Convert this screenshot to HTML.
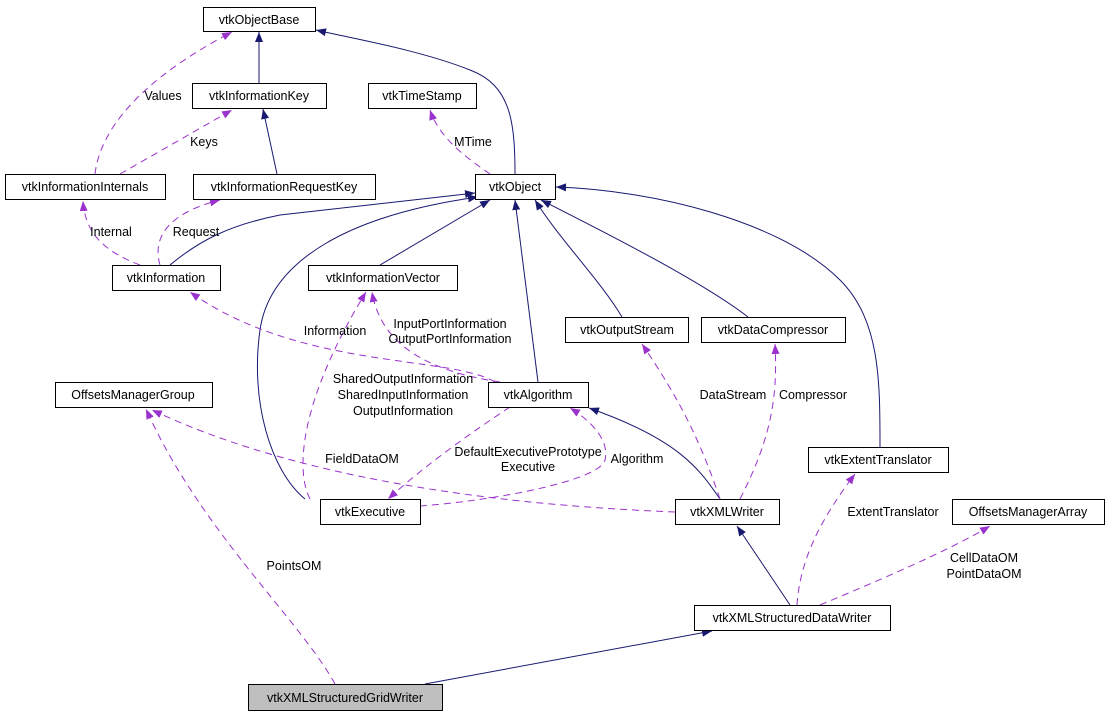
<!DOCTYPE html>
<html><head><meta charset="utf-8"><style>
html,body{margin:0;padding:0;background:#fff;}
svg{display:block;}
text{font-family:"Liberation Sans",sans-serif;font-size:12.5px;fill:#000;}
.n rect{fill:#fff;stroke:#000;stroke-width:1;}
.s{fill:none;stroke:#191970;stroke-width:1;}
.d{fill:none;stroke:#9a32cd;stroke-width:1;stroke-dasharray:7,5;}
</style></head><body>
<svg width="1116" height="715" viewBox="0 0 1116 715" xmlns="http://www.w3.org/2000/svg">
<defs>
<marker id="an" viewBox="0 0 10 10" refX="10" refY="5" markerWidth="10" markerHeight="10" markerUnits="userSpaceOnUse" orient="auto"><path d="M0,1 L10,5 L0,9 z" fill="#191970"/></marker>
<marker id="ap" viewBox="0 0 10 10" refX="10" refY="5" markerWidth="10" markerHeight="10" markerUnits="userSpaceOnUse" orient="auto"><path d="M0,1 L10,5 L0,9 z" fill="#9a32cd"/></marker>
</defs>
<g class="s" marker-end="url(#an)">
<path d="M259,83 L259,32"/>
<path d="M515,174 C515,120 510,85 470,70 C420,50 350,38 316,30"/>
<path d="M277,174 L263,109"/>
<path d="M170,265 C200,240 230,225 280,215 L475,193"/>
<path d="M380,265 L490,200"/>
<path d="M305,499 C270,470 250,400 260,330 C270,260 350,215 478,197"/>
<path d="M538,382 L515,200"/>
<path d="M622,317 C600,280 560,240 535,200"/>
<path d="M748,317 C700,280 600,230 541,200"/>
<path d="M880,447 C880,380 880,320 840,280 C780,220 650,190 556,187"/>
<path d="M720,499 C700,470 680,440 589,408"/>
<path d="M790,605 L737,526"/>
<path d="M425,684 L712,631"/>
</g>
<g class="d" marker-end="url(#ap)">
<path d="M95,174 C100,130 140,80 232,32"/>
<path d="M120,174 L232,110"/>
<path d="M490,174 C470,160 440,140 430,110"/>
<path d="M140,265 C100,250 85,230 83,201"/>
<path d="M160,265 C150,230 180,210 220,200"/>
<path d="M495,382 C450,355 300,370 190,292"/>
<path d="M500,382 C420,370 380,340 372,292"/>
<path d="M310,499 C295,470 300,400 366,292"/>
<path d="M510,407 C460,440 420,470 388,499"/>
<path d="M420,506 C500,500 600,480 605,460 C610,440 590,420 570,408"/>
<path d="M675,512 C500,505 300,480 152,410"/>
<path d="M720,499 C700,440 680,400 642,344"/>
<path d="M740,499 C770,440 778,400 775,344"/>
<path d="M797,605 C800,560 820,520 855,474"/>
<path d="M820,605 C880,580 950,550 990,526"/>
<path d="M335,684 C300,620 200,530 146,409"/>
</g>
<g class="n">
<rect x="203.5" y="7.5" width="112" height="24"/>
<rect x="192.5" y="83.5" width="134" height="25"/>
<rect x="368.5" y="83.5" width="108" height="25"/>
<rect x="5.5" y="174.5" width="160" height="25"/>
<rect x="193.5" y="174.5" width="182" height="25"/>
<rect x="475.5" y="174.5" width="80" height="25"/>
<rect x="112.5" y="265.5" width="108" height="25"/>
<rect x="308.5" y="265.5" width="149" height="25"/>
<rect x="565.5" y="317.5" width="123" height="25"/>
<rect x="701.5" y="317.5" width="144" height="25"/>
<rect x="55.5" y="382.5" width="157" height="25"/>
<rect x="488.5" y="382.5" width="100" height="25"/>
<rect x="808.5" y="447.5" width="140" height="25"/>
<rect x="952.5" y="499.5" width="152" height="25"/>
<rect x="320.5" y="499.5" width="100" height="25"/>
<rect x="675.5" y="499.5" width="104" height="25"/>
<rect x="694.5" y="605.5" width="196" height="25"/>
<rect x="248.5" y="684.5" width="194" height="26" style="fill:#bfbfbf"/>
</g>
<g text-anchor="middle">
<text x="259" y="24">vtkObjectBase</text>
<text x="259" y="100">vtkInformationKey</text>
<text x="422" y="100">vtkTimeStamp</text>
<text x="85" y="191">vtkInformationInternals</text>
<text x="284" y="191">vtkInformationRequestKey</text>
<text x="515" y="191">vtkObject</text>
<text x="166" y="282">vtkInformation</text>
<text x="383" y="282">vtkInformationVector</text>
<text x="627" y="334">vtkOutputStream</text>
<text x="773" y="334">vtkDataCompressor</text>
<text x="133" y="399">OffsetsManagerGroup</text>
<text x="538" y="399">vtkAlgorithm</text>
<text x="878" y="464">vtkExtentTranslator</text>
<text x="1028" y="516">OffsetsManagerArray</text>
<text x="370" y="516">vtkExecutive</text>
<text x="727" y="516">vtkXMLWriter</text>
<text x="792" y="622">vtkXMLStructuredDataWriter</text>
<text x="345" y="702">vtkXMLStructuredGridWriter</text>

<text x="163" y="100">Values</text>
<text x="204" y="146">Keys</text>
<text x="473" y="146">MTime</text>
<text x="111" y="236">Internal</text>
<text x="196" y="236">Request</text>
<text x="335" y="335">Information</text>
<text x="450" y="328">InputPortInformation</text>
<text x="450" y="343">OutputPortInformation</text>
<text x="403" y="383">SharedOutputInformation</text>
<text x="403" y="399">SharedInputInformation</text>
<text x="403" y="415">OutputInformation</text>
<text x="528" y="456">DefaultExecutivePrototype</text>
<text x="528" y="471">Executive</text>
<text x="637" y="463">Algorithm</text>
<text x="362" y="463">FieldDataOM</text>
<text x="733" y="399">DataStream</text>
<text x="813" y="399">Compressor</text>
<text x="893" y="516">ExtentTranslator</text>
<text x="984" y="562">CellDataOM</text>
<text x="984" y="578">PointDataOM</text>
<text x="294" y="570">PointsOM</text>
</g>
</svg>
</body></html>
